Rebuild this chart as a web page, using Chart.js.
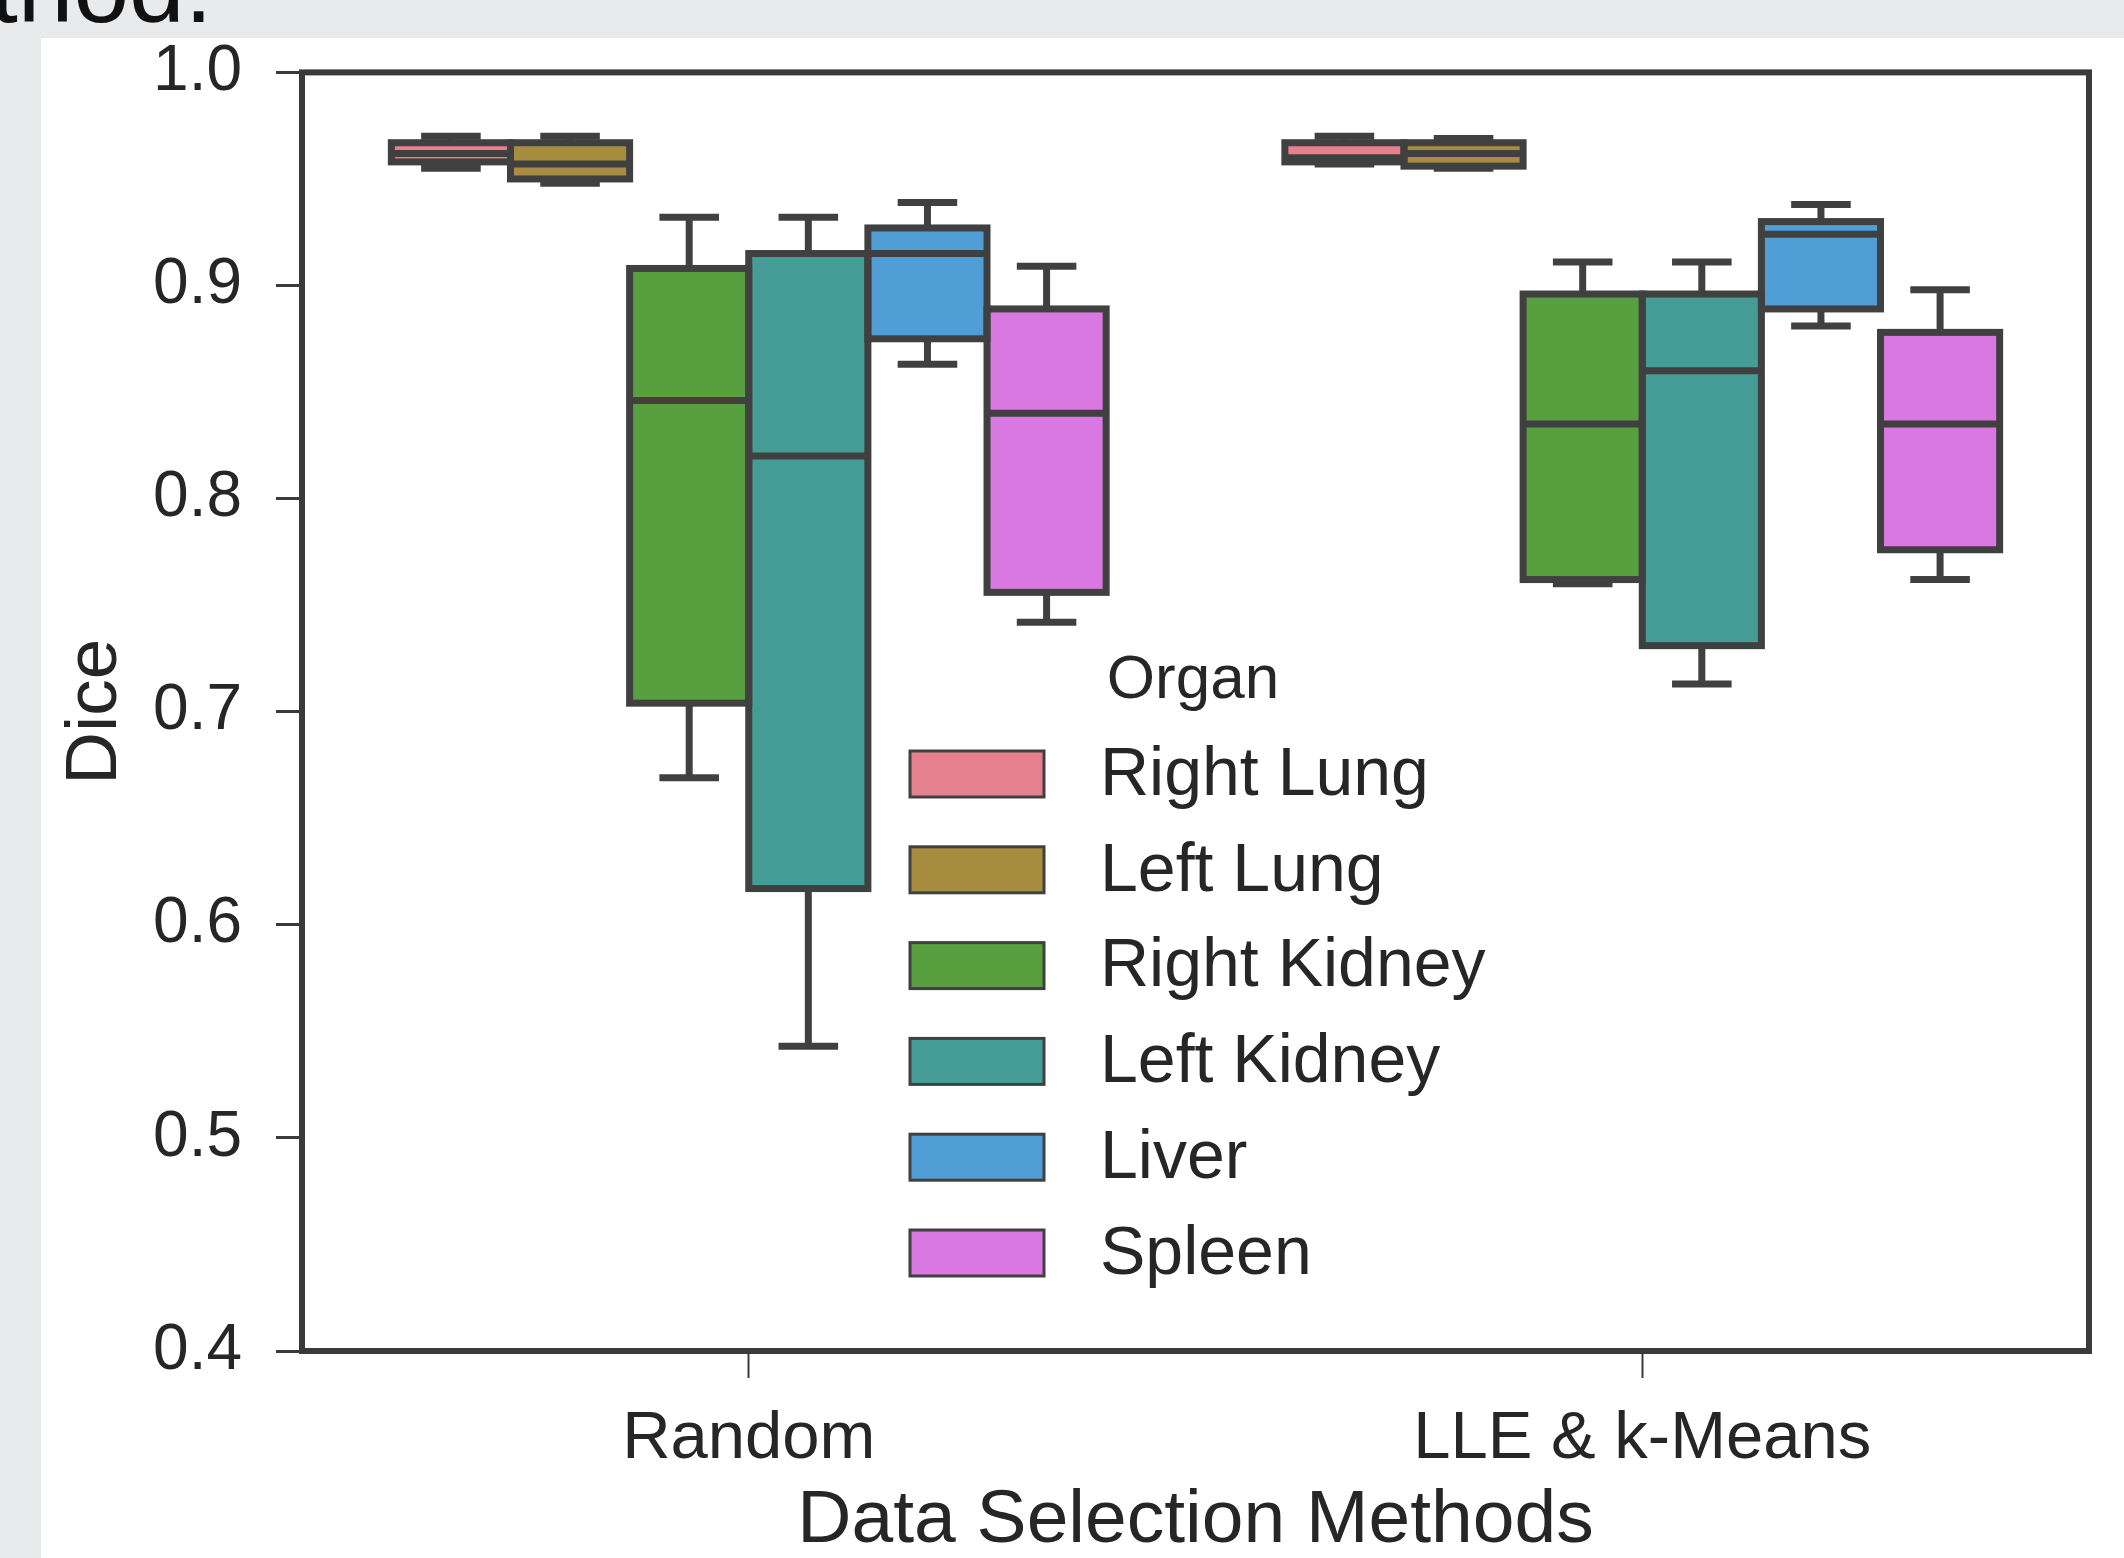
<!DOCTYPE html>
<html>
<head>
<meta charset="utf-8">
<title>Dice by data selection method</title>
<script src="https://cdn.jsdelivr.net/npm/chart.js@4.4.0/dist/chart.umd.min.js"></script>
<style>
  html, body { margin: 0; padding: 0; background: #e9eaec; }
  canvas { display: block; }
</style>
</head>
<body>
<canvas id="diceChart" width="2124" height="1558"></canvas>
<script>
// Categories and series
const methods = ['Random', 'LLE & k-Means'];
const organs = ['Right Lung', 'Left Lung', 'Right Kidney', 'Left Kidney', 'Liver', 'Spleen'];
const organColors = ['#e5808f', '#a88c40', '#589f3f', '#469c96', '#519ed6', '#d978e0'];

// Box stats per method: [lower whisker, q1, median, q3, upper whisker]
const rightLung   = [[0.955, 0.958, 0.962, 0.967, 0.970], [0.957, 0.958, 0.960, 0.967, 0.970]];
const leftLung    = [[0.948, 0.950, 0.957, 0.967, 0.970], [0.955, 0.956, 0.962, 0.967, 0.969]];
const rightKidney = [[0.669, 0.704, 0.846, 0.908, 0.932], [0.760, 0.762, 0.835, 0.896, 0.911]];
const leftKidney  = [[0.543, 0.617, 0.820, 0.915, 0.932], [0.713, 0.731, 0.860, 0.896, 0.911]];
const liver       = [[0.863, 0.875, 0.915, 0.927, 0.939], [0.881, 0.889, 0.924, 0.930, 0.938]];
const spleen      = [[0.742, 0.756, 0.840, 0.889, 0.909], [0.762, 0.776, 0.835, 0.878, 0.898]];

const yTicks = [0.4, 0.5, 0.6, 0.7, 0.8, 0.9, 1.0];

const organStats = [rightLung, leftLung, rightKidney, leftKidney, liver, spleen];

const edgeColor = '#404040';
const textColor = '#262626';
const fontFamily = "'Liberation Sans', Arial, Helvetica, sans-serif";

Chart.defaults.font.family = fontFamily;
Chart.defaults.color = textColor;

// Page background: grey screenshot margin, white figure, clipped caption above
const pageBackground = {
    id: 'pageBackground',
    beforeDraw(chart) {
        const ctx = chart.ctx;
        ctx.save();
        ctx.fillStyle = '#e9eaec';
        ctx.fillRect(0, 0, chart.width, chart.height);
        ctx.fillStyle = '#ffffff';
        ctx.fillRect(41, 38, chart.width - 41, chart.height - 38);
        ctx.fillStyle = '#111111';
        ctx.font = '100px ' + fontFamily;
        ctx.textBaseline = 'alphabetic';
        ctx.fillText('thod.', -10, 22);
        ctx.restore();
    }
};

// Whiskers, caps, medians and box outlines, placed with the chart's own scales
const boxWhiskers = {
    id: 'boxWhiskers',
    afterDatasetsDraw(chart) {
        const ctx = chart.ctx;
        const yScale = chart.scales.y;
        const py = v => yScale.getPixelForValue(v);
        const line = (x1, y1, x2, y2) => {
            ctx.beginPath();
            ctx.moveTo(x1, y1);
            ctx.lineTo(x2, y2);
            ctx.stroke();
        };
        ctx.save();
        ctx.strokeStyle = edgeColor;
        ctx.lineWidth = 7;
        ctx.lineCap = 'butt';
        chart.data.datasets.forEach((ds, i) => {
            const meta = chart.getDatasetMeta(i);
            meta.data.forEach((bar, j) => {
                const s = organStats[i][j];
                const cx = bar.x;
                const half = bar.width / 2;
                // whiskers
                line(cx, py(s[3]), cx, py(s[4]));
                line(cx, py(s[1]), cx, py(s[0]));
                // caps
                line(cx - half / 2, py(s[4]), cx + half / 2, py(s[4]));
                line(cx - half / 2, py(s[0]), cx + half / 2, py(s[0]));
                // box outline
                ctx.strokeRect(cx - half, py(s[3]), bar.width, py(s[1]) - py(s[3]));
                // median
                line(cx - half, py(s[2]), cx + half, py(s[2]));
            });
        });
        // axes frame
        const a = chart.chartArea;
        ctx.strokeStyle = '#3a3a3a';
        ctx.lineWidth = 6;
        ctx.strokeRect(a.left, a.top, a.right - a.left, a.bottom - a.top);
        ctx.restore();
    }
};

// Legend drawn inside the axes, like the seaborn one
const organLegend = {
    id: 'organLegend',
    afterDraw(chart) {
        const ctx = chart.ctx;
        ctx.save();
        ctx.fillStyle = textColor;
        ctx.textBaseline = 'middle';
        ctx.textAlign = 'center';
        ctx.font = '62px ' + fontFamily;
        ctx.fillText('Organ', 1193, 681);
        ctx.textAlign = 'left';
        ctx.font = '68px ' + fontFamily;
        chart.data.datasets.forEach((ds, i) => {
            const cy = 774 + i * 95.8;
            ctx.fillStyle = ds.backgroundColor;
            ctx.fillRect(910, cy - 23, 134, 46);
            ctx.strokeStyle = edgeColor;
            ctx.lineWidth = 3;
            ctx.strokeRect(910, cy - 23, 134, 46);
            ctx.fillStyle = textColor;
            ctx.fillText(ds.label, 1100, cy + 2);
        });
        ctx.restore();
    }
};

const ctx = document.getElementById('diceChart').getContext('2d');
new Chart(ctx, {
    type: 'bar',
    data: {
        labels: methods,
        datasets: organs.map((name, i) => ({
            label: name,
            data: organStats[i].map(s => [s[1], s[3]]),
            backgroundColor: organColors[i],
            borderWidth: 0,
            borderSkipped: false,
            categoryPercentage: 0.8,
            barPercentage: 1.0
        }))
    },
    options: {
        responsive: false,
        animation: false,
        events: [],
        layout: { padding: { left: 0, right: 35, top: 68, bottom: 0 } },
        plugins: {
            legend: { display: false },
            tooltip: { enabled: false }
        },
        scales: {
            x: {
                offset: true,
                grid: { offset: false, drawOnChartArea: false, drawTicks: true, tickLength: 27, tickWidth: 2, tickColor: '#3a3a3a' },
                border: { display: false },
                ticks: { font: { size: 67 }, padding: 21, color: textColor },
                title: { display: true, text: 'Data Selection Methods', font: { size: 75 }, color: textColor, padding: { top: 0, bottom: -8 } },
                afterFit: scale => { scale.height = 207; }
            },
            y: {
                min: 0.4,
                max: 1.0,
                afterBuildTicks: axis => { axis.ticks = yTicks.map(v => ({ value: v })); },
                grid: { drawOnChartArea: false, drawTicks: true, tickLength: 26, tickWidth: 3, tickColor: '#3a3a3a' },
                border: { display: false },
                ticks: { font: { size: 64 }, padding: 34, color: textColor, callback: v => Number(v).toFixed(1) },
                title: { display: true, text: 'Dice', font: { size: 73 }, color: textColor, padding: { top: 52, bottom: 0 } },
                afterFit: scale => { scale.width = 302; }
            }
        }
    },
    plugins: [pageBackground, boxWhiskers, organLegend]
});
</script>
</body>
</html>
